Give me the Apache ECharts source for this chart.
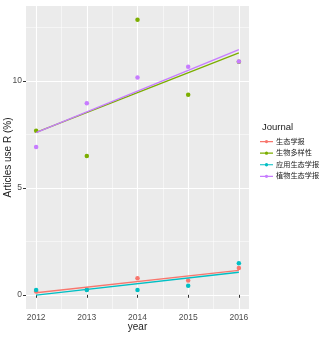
<!DOCTYPE html>
<html>
<head>
<meta charset="utf-8">
<script src="https://cdn.jsdelivr.net/npm/echarts@6/dist/echarts.min.js"></script>
<style>
  html, body { margin: 0; padding: 0; background: #fff; }
  #chart { width: 326px; height: 338px; }
</style>
</head>
<body>
<div id="chart"></div>
<script>
// Share of articles using R, per journal and year
const years = [2012, 2013, 2014, 2015, 2016];
const journals = ['生态学报', '生物多样性', '应用生态学报', '植物生态学报'];
const shengTaiXueBao = [0.15, 0.25, 0.78, 0.67, 1.25];
const shengWuDuoYangXing = [7.68, 6.5, 12.87, 9.36, 10.9];
const yingYongShengTai = [0.23, 0.23, 0.23, 0.42, 1.48];
const zhiWuShengTai = [6.92, 8.96, 10.17, 10.67, 10.92];
const xTicks = [2012, 2013, 2014, 2015, 2016];
const xMinorTicks = [2012.5, 2013.5, 2014.5, 2015.5];
const yTicks = [0, 5, 10];
const yMinorTicks = [2.5, 7.5, 12.5];

const values = [shengTaiXueBao, shengWuDuoYangXing, yingYongShengTai, zhiWuShengTai];
const colors = ['#F8766D', '#7CAE00', '#00BFC4', '#C77CFF'];
const FONT = '"Liberation Sans", Arial, "Noto Sans CJK SC", sans-serif';

// Least-squares line through a journal's yearly values
function linearFit(xs, ys) {
  const n = xs.length;
  const mx = xs.reduce((a, b) => a + b, 0) / n;
  const my = ys.reduce((a, b) => a + b, 0) / n;
  let sxy = 0, sxx = 0;
  for (let i = 0; i < n; i++) {
    sxy += (xs[i] - mx) * (ys[i] - my);
    sxx += (xs[i] - mx) * (xs[i] - mx);
  }
  const b = sxy / sxx;
  const a = my - b * mx;
  const x0 = Math.min(...xs), x1 = Math.max(...xs);
  return [[x0, a + b * x0], [x1, a + b * x1]];
}

// Axis extents padded by 5% of the data range on each side
const allVals = values.flat().concat(values.map(v => linearFit(years, v)).flat().map(p => p[1]));
const yLo = Math.min(...allVals), yHi = Math.max(...allVals);
const yPad = (yHi - yLo) * 0.05;
const xPad = (Math.max(...years) - Math.min(...years)) * 0.05;

const series = [];
// background grid lines (white on grey)
series.push({
  type: 'line', data: [], silent: true, z: 0,
  markLine: {
    silent: true, symbol: 'none', animation: false, label: { show: false }, z: 0,
    data: [
      ...xMinorTicks.map(v => ({ xAxis: v, lineStyle: { color: '#fff', width: 0.5, type: 'solid' } })),
      ...yMinorTicks.map(v => ({ yAxis: v, lineStyle: { color: '#fff', width: 0.5, type: 'solid' } })),
      ...xTicks.map(v => ({ xAxis: v, lineStyle: { color: '#fff', width: 1.1, type: 'solid' } })),
      ...yTicks.map(v => ({ yAxis: v, lineStyle: { color: '#fff', width: 1.1, type: 'solid' } }))
    ]
  }
});
journals.forEach((name, i) => {
  series.push({
    name, type: 'scatter', z: 2,
    symbolSize: 4.5,
    itemStyle: { color: colors[i], opacity: 1 },
    data: years.map((y, k) => [y, values[i][k]])
  });
});
journals.forEach((name, i) => {
  series.push({
    name, type: 'line', z: 3,
    symbol: 'none',
    lineStyle: { color: colors[i], width: 1.3 },
    itemStyle: { color: colors[i] },
    data: linearFit(years, values[i])
  });
});

const keyIcon = 'path://M0,4.4 L14,4.4 L14,5.6 L0,5.6 Z M8.8,5 A1.8,1.8 0 1 1 5.2,5 A1.8,1.8 0 1 1 8.8,5 Z';

const chart = echarts.init(document.getElementById('chart'), null, { renderer: 'canvas' });
chart.setOption({
  animation: false,
  backgroundColor: '#fff',
  textStyle: { fontFamily: FONT },
  title: {
    text: 'Journal', left: 262, top: 123, padding: 0,
    textStyle: { fontSize: 9.5, fontWeight: 'normal', color: '#222', fontFamily: FONT }
  },
  legend: {
    orient: 'vertical', left: 260, top: 138, padding: 0,
    itemWidth: 13, itemHeight: 9, itemGap: 4.4,
    selectedMode: false,
    textStyle: { fontSize: 7.2, color: '#222', fontFamily: FONT, padding: [0, 0, 0, -2] },
    data: journals.map((name, i) => ({ name, icon: keyIcon, itemStyle: { color: colors[i] } }))
  },
  grid: {
    left: 26, right: 77, top: 6, bottom: 29,
    outerBoundsMode: 'none', containLabel: false,
    show: true, backgroundColor: '#EBEBEB', borderWidth: 0
  },
  xAxis: {
    type: 'value',
    min: Math.min(...years) - xPad, max: Math.max(...years) + xPad,
    name: 'year', nameLocation: 'middle', nameGap: 13, nameMoveOverlap: false,
    nameTextStyle: { fontSize: 10, color: '#222', fontFamily: FONT },
    axisLine: { show: false },
    axisTick: { show: true, length: 3, customValues: xTicks, lineStyle: { color: '#333', width: 1 } },
    axisLabel: { customValues: xTicks, fontSize: 8.5, color: '#4D4D4D', margin: 4, fontFamily: FONT,
      formatter: v => String(v) },
    splitLine: { show: false }
  },
  yAxis: {
    type: 'value',
    min: yLo - yPad, max: yHi + yPad,
    name: 'Articles use R (%)', nameLocation: 'middle', nameGap: 13, nameRotate: 90, nameMoveOverlap: false,
    nameTextStyle: { fontSize: 10, color: '#222', fontFamily: FONT },
    axisLine: { show: false },
    axisTick: { show: true, length: 3, customValues: yTicks, lineStyle: { color: '#333', width: 1 } },
    axisLabel: { customValues: yTicks, fontSize: 8.5, color: '#4D4D4D', margin: 4, fontFamily: FONT,
      formatter: v => String(v) },
    splitLine: { show: false }
  },
  series
});
</script>
</body>
</html>
